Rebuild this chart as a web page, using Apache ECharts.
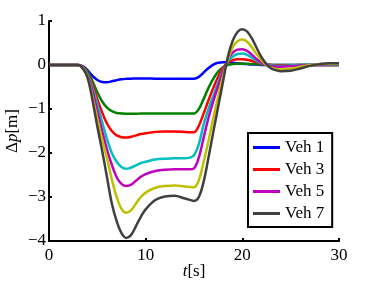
<!DOCTYPE html>
<html>
<head>
<meta charset="utf-8">
<script src="https://cdn.jsdelivr.net/npm/echarts@6/dist/echarts.min.js"></script>
<style>html,body{margin:0;padding:0;background:#fff;}#c{width:374px;height:281px;}</style>
</head>
<body>
<div id="c"></div>
<script>
var times = [0,1,2,3,3.5,4,4.5,5,5.5,6,6.5,7,7.5,8,8.5,9,9.5,10,11,12,13,14,14.5,15,15.5,16,16.5,17,17.5,18,18.5,19,19.5,20,20.5,21,21.5,22,22.5,23,23.5,24,25,26,27,28,29,30];
var names = ['Veh 1','Veh 2','Veh 3','Veh 4','Veh 5','Veh 6','Veh 7'];
var legendNames = ['Veh 1','Veh 3','Veh 5','Veh 7'];
var xTicks = [0,10,20,30];
var yTicks = [-4,-3,-2,-1,0,1];

var veh1 = [0,0,0,0,-0.03,-0.12,-0.25,-0.34,-0.385,-0.39,-0.37,-0.345,-0.325,-0.315,-0.31,-0.305,-0.305,-0.305,-0.31,-0.31,-0.31,-0.31,-0.31,-0.31,
  -0.27,-0.17,-0.07,0.01,0.05,0.06,0.06,0.05,0.04,0.03,0.02,0.01,0.01,0,0,0,0,0,0,0,0,0,0,0];
var veh2 = [0,0,0,0,-0.04,-0.15,-0.37,-0.62,-0.83,-0.97,-1.05,-1.09,-1.1,-1.11,-1.11,-1.11,-1.1,-1.1,-1.1,-1.1,-1.1,-1.1,-1.1,-1.1,
  -1.0,-0.77,-0.52,-0.31,-0.15,-0.05,0.0,0.02,0.03,0.03,0.03,0.02,0.02,0.01,0.01,0,0,0,0,0,0,0,0,0];
var veh3 = [0,0,0,0,-0.05,-0.2,-0.45,-0.78,-1.08,-1.33,-1.5,-1.6,-1.64,-1.65,-1.63,-1.6,-1.57,-1.55,-1.52,-1.51,-1.51,-1.52,-1.53,-1.53,
  -1.38,-1.1,-0.8,-0.52,-0.27,-0.07,0.05,0.11,0.13,0.13,0.12,0.09,0.06,0.03,0.01,0,-0.01,-0.01,-0.01,0,0,0,0,0];
var veh4 = [0,0,0,0,-0.06,-0.22,-0.52,-0.9,-1.3,-1.68,-2.0,-2.2,-2.32,-2.36,-2.33,-2.28,-2.23,-2.2,-2.15,-2.13,-2.12,-2.12,-2.11,-2.05,
  -1.8,-1.35,-1.0,-0.7,-0.4,-0.12,0.08,0.19,0.25,0.26,0.23,0.16,0.09,0.04,0.01,-0.01,-0.02,-0.02,-0.01,0,0.01,0.01,0.01,0.01];
var veh5 = [0,0,0,0,-0.06,-0.25,-0.6,-1.05,-1.5,-1.92,-2.27,-2.55,-2.7,-2.75,-2.72,-2.63,-2.54,-2.48,-2.41,-2.38,-2.37,-2.37,-2.37,-2.35,
  -2.1,-1.65,-1.2,-0.82,-0.48,-0.15,0.12,0.28,0.35,0.36,0.32,0.23,0.13,0.05,0,-0.03,-0.04,-0.04,-0.03,-0.01,0,0.01,0.02,0.02];
var veh6 = [0,0,0,0,-0.07,-0.28,-0.72,-1.22,-1.7,-2.12,-2.6,-3.0,-3.27,-3.36,-3.3,-3.15,-3.0,-2.9,-2.79,-2.75,-2.74,-2.76,-2.77,-2.78,
  -2.62,-2.2,-1.72,-1.2,-0.72,-0.26,0.12,0.4,0.54,0.58,0.53,0.4,0.24,0.1,0,-0.06,-0.09,-0.1,-0.08,-0.04,0,0.02,0.03,0.03];
var veh7 = [0,0,0,0,-0.08,-0.3,-0.8,-1.4,-1.95,-2.55,-3.15,-3.55,-3.82,-3.93,-3.86,-3.66,-3.45,-3.28,-3.07,-2.99,-2.97,-3.03,-3.06,-3.09,
  -3.0,-2.65,-2.1,-1.52,-0.95,-0.38,0.18,0.55,0.75,0.81,0.76,0.6,0.38,0.17,0.02,-0.08,-0.12,-0.14,-0.13,-0.08,-0.02,0.02,0.04,0.04];

var values = [veh1,veh2,veh3,veh4,veh5,veh6,veh7];
var colors = ['#0000ff','#008000','#ff0000','#00bfbf','#bf00bf','#bfbf00','#404040'];

function pairs(v){ return times.map(function(t,i){ return [t, v[i]]; }); }
var FONT = 'Liberation Serif';

var series = names.map(function(n,i){
  return {
    name: n, type: 'line', data: pairs(values[i]), showSymbol: false, symbol: 'none',
    smooth: 0.35, lineStyle: {width: 2.5, color: colors[i]}, itemStyle: {color: colors[i]},
    z: 2 + i
  };
});

var chart = echarts.init(document.getElementById('c'), null, {renderer: 'canvas'});
chart.setOption({
  animation: false,
  backgroundColor: '#fff',
  grid: {left: 49, right: 35, top: 21, bottom: 40, containLabel: false, outerBoundsMode: 'none'},
  xAxis: {
    type: 'value', min: 0, max: 30, interval: 10,
    name: '{i|t}[s]', nameLocation: 'middle', nameGap: 22, nameMoveOverlap: false,
    nameTextStyle: {fontFamily: FONT, fontSize: 17, color: '#000',
      rich: {i: {fontFamily: FONT, fontSize: 17, fontStyle: 'italic', color: '#000'}}},
    axisLine: {show: true, onZero: false, lineStyle: {color: '#000', width: 2}},
    axisTick: {show: true, inside: true, length: 3, lineStyle: {color: '#000', width: 2}},
    axisLabel: {fontFamily: FONT, fontSize: 17, color: '#000', margin: 6,
      formatter: function(v){ return xTicks.indexOf(v) >= 0 ? String(v) : ''; }},
    splitLine: {show: false}
  },
  yAxis: {
    type: 'value', min: -4, max: 1, interval: 1,
    name: '{a|Δ}{i|p}{a|[m]}', nameLocation: 'middle', nameGap: 28, nameMoveOverlap: false,
    nameTextStyle: {fontFamily: FONT, fontSize: 17, color: '#000',
      rich: {a: {fontFamily: FONT, fontSize: 17, color: '#000'},
             i: {fontFamily: FONT, fontSize: 17, fontStyle: 'italic', color: '#000'}}},
    axisLine: {show: true, onZero: false, lineStyle: {color: '#000', width: 2}},
    axisTick: {show: true, inside: true, length: 3, lineStyle: {color: '#000', width: 2}},
    axisLabel: {fontFamily: FONT, fontSize: 17, color: '#000', margin: 3,
      formatter: function(v){ return yTicks.indexOf(v) >= 0 ? String(v).replace('-', '\u2212') : ''; }},
    splitLine: {show: false}
  },
  legend: {
    data: legendNames, orient: 'vertical', left: 248, top: 133,
    backgroundColor: '#fff', borderColor: '#000', borderWidth: 2, borderRadius: 0,
    padding: [6, 8, 5, 5], itemGap: 5, itemWidth: 27, itemHeight: 3, icon: 'rect',
    textStyle: {fontFamily: FONT, fontSize: 17, color: '#000'}
  },
  series: series
});
</script>
</body>
</html>
